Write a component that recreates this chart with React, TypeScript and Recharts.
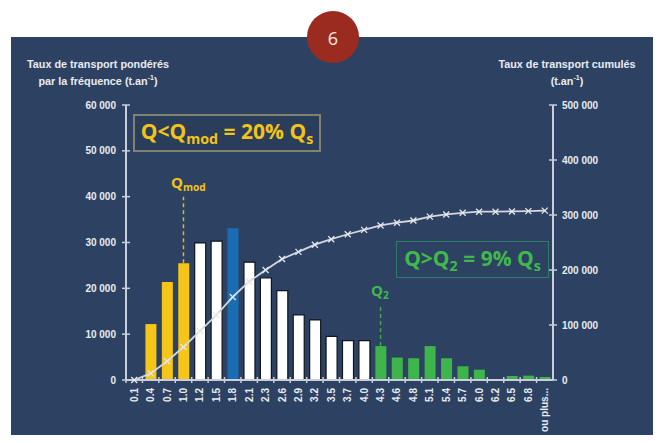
import React from 'react';
import { ComposedChart, Bar, Line, XAxis, YAxis, Cell, ReferenceLine } from 'recharts';

// classes de débit (m3/s)
const categories = ['0.1', '0.4', '0.7', '1.0', '1.2', '1.5', '1.8', '2.1', '2.3', '2.6', '2.9', '3.2', '3.5', '3.7', '4.0', '4.3', '4.6', '4.8', '5.1', '5.4', '5.7', '6.0', '6.2', '6.5', '6.8', 'ou plus...'];

// taux de transport pondérés par la fréquence (t.an-1)
const weighted = [0, 12200, 21400, 25500, 29900, 30300, 33100, 25700, 22300, 19500, 14200, 13100, 9500, 8600, 8600, 7400, 4900, 4750, 7400, 4750, 3000, 2250, 0, 870, 950, 650];

// taux de transport cumulés (t.an-1)
const cumulated = [0, 12000, 34000, 60000, 89000, 118000, 151000, 179000, 200000, 220000, 233000, 246000, 256000, 265000, 273000, 281000, 286000, 290000, 297000, 301000, 304000, 306000, 306000, 306500, 307000, 308000];

// groupe de chaque classe : y = < Qmod, w = courant, b = Qmod, g = > Q2
const groups = ['y', 'y', 'y', 'y', 'w', 'w', 'b', 'w', 'w', 'w', 'w', 'w', 'w', 'w', 'w', 'g', 'g', 'g', 'g', 'g', 'g', 'g', 'g', 'g', 'g', 'g'];

const leftTicks = [0, 10000, 20000, 30000, 40000, 50000, 60000];
const rightTicks = [0, 100000, 200000, 300000, 400000, 500000];

const GROUP_COLORS: Record<string, string> = { y: '#f5c518', w: '#ffffff', b: '#1b6db3', g: '#3db54a' };

const YELLOW = '#f2c419';
const GREEN = '#3fb94c';
const AXIS = '#c9ced8';
const TEXT = '#e8ebf0';
const FONT = "'Liberation Sans', Arial, sans-serif";

const data = categories.map((c, i) => ({ name: c, value: weighted[i], cumul: cumulated[i], group: groups[i] }));

const PLOT_LEFT = 126;
const PLOT_RIGHT = 553;
const STEP = (PLOT_RIGHT - PLOT_LEFT) / categories.length;

const fmt = (n: number) => String(n).replace(/\B(?=(\d{3})+(?!\d))/g, ' ');

const XTick = (props: any) => {
  const { x, y, payload } = props;
  return (
    <g>
      <line x1={x - STEP / 2} x2={x - STEP / 2} y1={y - 3} y2={y + 3} stroke={AXIS} strokeWidth={1.5} />
      <text
        x={x}
        y={y + 8}
        transform={`rotate(-90, ${x}, ${y + 8})`}
        textAnchor="end"
        dominantBaseline="central"
        fill={TEXT}
        fontSize={10}
        fontWeight="bold"
        fontFamily={FONT}
      >
        {payload.value}
      </text>
    </g>
  );
};

const LeftTick = (props: any) => {
  const { x, y, payload } = props;
  return (
    <g>
      <line x1={x - 4} x2={x + 4} y1={y} y2={y} stroke={AXIS} strokeWidth={1.5} />
      <text x={x - 10} y={y} textAnchor="end" dominantBaseline="central" fill={TEXT} fontSize={10} fontWeight="bold" fontFamily={FONT}>
        {fmt(payload.value)}
      </text>
    </g>
  );
};

const RightTick = (props: any) => {
  const { x, y, payload } = props;
  return (
    <g>
      <line x1={x - 4} x2={x + 4} y1={y} y2={y} stroke={AXIS} strokeWidth={1.5} />
      <text x={x + 9} y={y} textAnchor="start" dominantBaseline="central" fill={TEXT} fontSize={10} fontWeight="bold" fontFamily={FONT}>
        {fmt(payload.value)}
      </text>
    </g>
  );
};

const CrossDot = (props: any) => {
  const { cx, cy, index } = props;
  if (cx == null || cy == null) return <g key={index} />;
  const s = 3;
  return (
    <g key={index}>
      <line x1={cx - s} y1={cy - s} x2={cx + s} y2={cy + s} stroke="#e4e7ec" strokeWidth={1.3} />
      <line x1={cx - s} y1={cy + s} x2={cx + s} y2={cy - s} stroke="#e4e7ec" strokeWidth={1.3} />
    </g>
  );
};

const sub = (t: string) => (
  <span style={{ fontSize: '0.68em', position: 'relative', top: '0.34em' }}>{t}</span>
);

const titleStyle: React.CSSProperties = {
  position: 'absolute',
  color: TEXT,
  fontFamily: FONT,
  fontWeight: 'bold',
  fontSize: 10.8,
  lineHeight: '13px',
  textAlign: 'center',
  whiteSpace: 'nowrap',
};

const App: React.FC = () => {
  return (
    <div style={{ position: 'relative', width: 662, height: 443, margin: -8, background: '#ffffff', overflow: 'hidden' }}>
      <div style={{ position: 'absolute', left: 11, top: 37, width: 642, height: 406, background: '#2d4262' }} />
      <div
        style={{
          position: 'absolute', left: 307, top: 11, width: 52, height: 52, borderRadius: '50%', background: '#9b2b1e',
          color: '#f4ece8', fontFamily: "'Open Sans', sans-serif", fontSize: 18, lineHeight: '54px', textAlign: 'center',
        }}
      >
        6
      </div>

      <div style={{ ...titleStyle, left: 18, top: 58, width: 160 }}>
        Taux de transport pondérés<br />par la fréquence (t.an<sup style={{ fontSize: 7 }}>-1</sup>)
      </div>
      <div style={{ ...titleStyle, left: 487, top: 58, width: 160 }}>
        Taux de transport cumulés<br />(t.an<sup style={{ fontSize: 7 }}>-1</sup>)
      </div>

      <div style={{ position: 'absolute', left: 0, top: 0 }}>
        <ComposedChart
          width={662}
          height={443}
          data={data}
          barSize={11}
          margin={{ top: 105, right: 662 - PLOT_RIGHT - 60, bottom: 8, left: PLOT_LEFT - 60 }}
        >
          <XAxis
            dataKey="name"
            interval={0}
            height={55}
            tickSize={0}
            tickMargin={0}
            tick={<XTick />}
            axisLine={{ stroke: AXIS, strokeWidth: 2 }}
            tickLine={false}
          />
          <YAxis
            yAxisId="left"
            width={60}
            domain={[0, 60000]}
            ticks={leftTicks}
            tickSize={0}
            tickMargin={0}
            tick={<LeftTick />}
            tickLine={false}
            axisLine={{ stroke: AXIS, strokeWidth: 2 }}
          />
          <YAxis
            yAxisId="right"
            orientation="right"
            width={60}
            domain={[0, 500000]}
            ticks={rightTicks}
            tickSize={0}
            tickMargin={0}
            tick={<RightTick />}
            tickLine={false}
            axisLine={{ stroke: AXIS, strokeWidth: 2 }}
          />
          <Bar yAxisId="left" dataKey="value" isAnimationActive={false}>
            {data.map((d, i) => (
              <Cell
                key={`c-${i}`}
                fill={GROUP_COLORS[d.group]}
                stroke={d.group === 'w' ? '#10151f' : 'none'}
                strokeWidth={d.group === 'w' ? 1.2 : 0}
              />
            ))}
          </Bar>
          <Line
            yAxisId="right"
            type="linear"
            dataKey="cumul"
            stroke="#d3d7de"
            strokeWidth={1.8}
            dot={<CrossDot />}
            activeDot={false}
            isAnimationActive={false}
          />
          <ReferenceLine
            yAxisId="left"
            segment={[{ x: '1.0', y: 25500 }, { x: '1.0', y: 40000 }]}
            stroke="#e0b520"
            strokeWidth={1.5}
            strokeDasharray="4 3"
            ifOverflow="visible"
          />
          <ReferenceLine
            yAxisId="left"
            segment={[{ x: '4.3', y: 7400 }, { x: '4.3', y: 16400 }]}
            stroke="#3aa848"
            strokeWidth={1.5}
            strokeDasharray="4 3"
            ifOverflow="visible"
          />
        </ComposedChart>
      </div>

      <div
        style={{
          position: 'absolute', left: 133, top: 114, width: 184, height: 34, border: '2px solid #80836f',
          background: 'rgba(0,0,0,0.06)', color: YELLOW, fontFamily: "'Open Sans', sans-serif", fontWeight: 'bold',
          fontSize: 21, lineHeight: '31px', textAlign: 'center', whiteSpace: 'nowrap',
        }}
      >
        Q&lt;Q{sub('mod')} = 20% Q{sub('s')}
      </div>
      <div
        style={{
          position: 'absolute', left: 396, top: 241, width: 151, height: 35, border: '1.5px solid #2c7d6a',
          color: GREEN, fontFamily: "'Open Sans', sans-serif", fontWeight: 'bold',
          fontSize: 21, lineHeight: '32px', textAlign: 'center', whiteSpace: 'nowrap',
        }}
      >
        Q&gt;Q{sub('2')} = 9% Q{sub('s')}
      </div>
      <div style={{ position: 'absolute', left: 171, top: 172, color: YELLOW, fontFamily: "'Open Sans', sans-serif", fontWeight: 'bold', fontSize: 15, whiteSpace: 'nowrap' }}>
        Q{sub('mod')}
      </div>
      <div style={{ position: 'absolute', left: 371, top: 280, color: GREEN, fontFamily: "'Open Sans', sans-serif", fontWeight: 'bold', fontSize: 15, whiteSpace: 'nowrap' }}>
        Q{sub('2')}
      </div>
    </div>
  );
};

export default App;
